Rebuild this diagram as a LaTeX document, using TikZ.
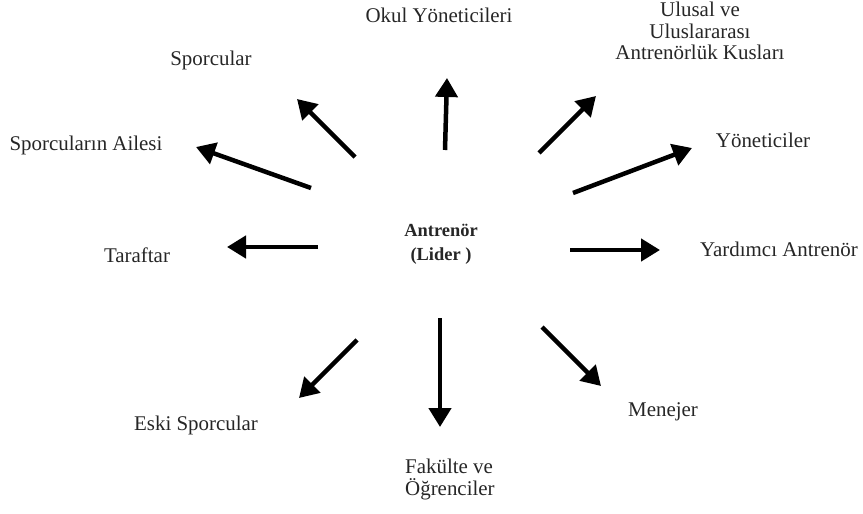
\documentclass[tikz,border=0pt]{standalone}
\usepackage{fontspec}
\setmainfont{Liberation Serif}
\usetikzlibrary{arrows.meta}
\begin{document}
\begin{tikzpicture}[x=1bp,y=-1bp,
  lbl/.style={inner sep=0pt,font=\fontsize{21}{22}\selectfont,text=black!85},
  ctr/.style={inner sep=0pt,font=\fontsize{18.5}{24}\selectfont\bfseries,align=center,text=black!85},
  arr/.style={line width=4.5bp,-{Triangle[length=19bp,width=22bp]}}]
\useasboundingbox (0,0) rectangle (863,514);
\node[ctr] (c) at (441,244) {Antrenör\\(Lider )};
% labels
\node[lbl] (okul) at (439,15) {Okul Yöneticileri};
\node[lbl,align=center,font=\fontsize{21}{21.5}\selectfont] (ulusal) at (700,31) {Ulusal ve\\Uluslararası\\Antrenörlük Kusları};
\node[lbl] (sporcular) at (211,60) {Sporcular};
\node[lbl] (aile) at (86,145) {Sporcuların Ailesi};
\node[lbl] (yon) at (763,140) {Yöneticiler};
\node[lbl] (taraftar) at (137,255) {Taraftar};
\node[lbl] (yard) at (779,249) {Yardımcı Antrenör};
\node[lbl] (men) at (663,412) {Menejer};
\node[lbl] (eski) at (196,425) {Eski Sporcular};
\node[lbl,align=left,font=\fontsize{21}{22}\selectfont,anchor=north west] (fak) at (405,459) {Fakülte ve\\Öğrenciler};
% arrow ends
\coordinate (t1) at (445,150); \coordinate (h1) at (447,78);
\coordinate (t2) at (539,153); \coordinate (h2) at (596,96);
\coordinate (t3) at (573,193); \coordinate (h3) at (692,148);
\coordinate (t4) at (570,250); \coordinate (h4) at (660,250);
\coordinate (t5) at (542,327); \coordinate (h5) at (601,386);
\coordinate (t6) at (440,318); \coordinate (h6) at (440,427);
\coordinate (t7) at (357,340); \coordinate (h7) at (299,398);
\coordinate (t8) at (318,247); \coordinate (h8) at (227,247);
\coordinate (t9) at (311,188); \coordinate (h9) at (196,147);
\coordinate (t10) at (355,157); \coordinate (h10) at (297,99);
\foreach \i in {1,...,10} \draw[arr] (t\i) -- (h\i);
\end{tikzpicture}
\end{document}
